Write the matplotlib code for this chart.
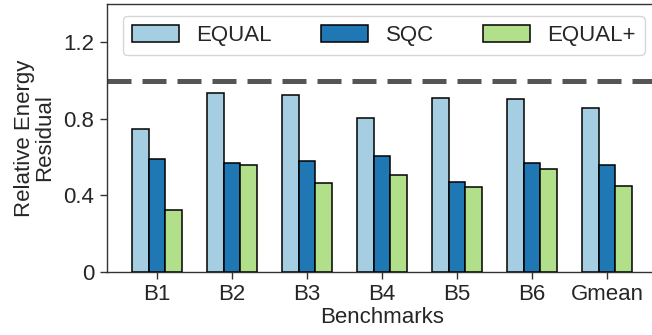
import numpy as np
import seaborn as sns
from matplotlib import pyplot as plt

sns.set_style('ticks')
plt.rcParams['font.family'] = ['Liberation Sans', 'DejaVu Sans']

benchmarks = ['B1', 'B2', 'B3', 'B4', 'B5', 'B6', 'Gmean']
series = ['EQUAL', 'SQC', 'EQUAL+']
equal = [0.746, 0.934, 0.923, 0.803, 0.908, 0.904, 0.857]
sqc = [0.589, 0.569, 0.579, 0.605, 0.469, 0.570, 0.560]
equal_plus = [0.323, 0.558, 0.464, 0.506, 0.443, 0.537, 0.449]
colors = ['#a6cee3', '#1f78b4', '#b2df8a']

fig = plt.figure(figsize=(6.52, 3.35), dpi=100)
ax = fig.add_axes([107 / 652, 63 / 335, 550 / 652, 268 / 335])

x = np.arange(len(benchmarks))
w = 0.222
for i, (name, vals) in enumerate(zip(series, [equal, sqc, equal_plus])):
    ax.bar(x + (i - 1) * w, vals, w, label=name, color=colors[i],
           edgecolor='black', linewidth=1.1, zorder=3)

ax.axhline(1.0, color='#555555', lw=3.6, dashes=(4.8, 2.2), zorder=2)

ax.set_xlim(-0.667, 6.667)
ax.set_ylim(0, 1.4)
ax.set_xticks(x)
ax.set_xticklabels(benchmarks, fontsize=16)
ax.set_yticks([0, 0.4, 0.8, 1.2])
ax.set_yticklabels(['0', '0.4', '0.8', '1.2'], fontsize=16)
ax.set_xlabel('Benchmarks', fontsize=16, labelpad=1)
ax.set_ylabel('Relative Energy\nResidual', fontsize=16, labelpad=6, linespacing=0.95)
ax.tick_params(axis='both', length=5, width=1, pad=4, colors='#333333', labelcolor='#262626')
for s in ax.spines.values():
    s.set_color('#333333')
    s.set_linewidth(1)

leg = ax.legend(loc='lower left', bbox_to_anchor=(0.029, 0.81, 0.949, 0.149), mode='expand',
                ncol=3, fontsize=16, handlelength=2.1, handleheight=0.77, borderaxespad=0,
                handletextpad=0.8, frameon=True, fancybox=True)
for t in leg.get_texts():
    t.set_color('#262626')

plt.savefig('out.png', dpi=100)
